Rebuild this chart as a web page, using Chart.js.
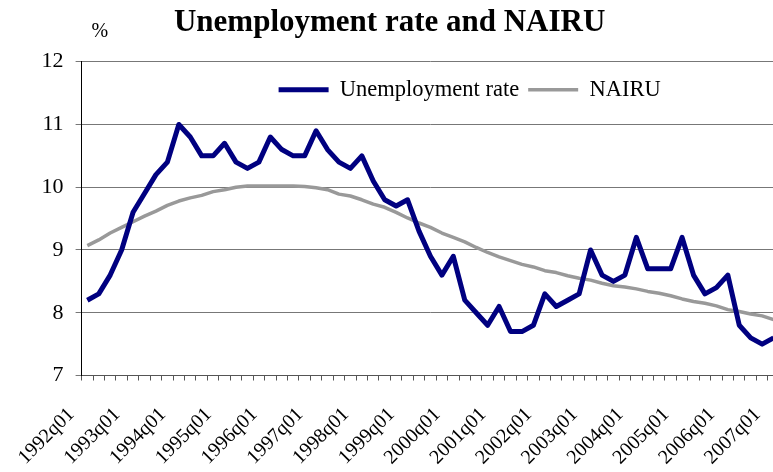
<!DOCTYPE html>
<html>
<head>
<meta charset="utf-8">
<script src="https://cdn.jsdelivr.net/npm/chart.js@4.4.1/dist/chart.umd.min.js"></script>
<style>
  html, body { margin: 0; padding: 0; background: #fff; overflow: hidden; }
  #wrap { width: 790px; height: 472px; }
</style>
</head>
<body>
<div id="wrap"><canvas id="myChart" width="790" height="472"></canvas></div>
<script>
// quarterly series, 1992q1 - 2007q1
var years = [1992,1993,1994,1995,1996,1997,1998,1999,2000,2001,2002,2003,2004,2005,2006,2007];
var quarters = [];
years.forEach(function (y) {
    ['q01','q02','q03','q04'].forEach(function (q) { quarters.push(y + q); });
});
quarters = quarters.slice(0, 61);

var unemploymentRate = [
    8.2, 8.3, 8.6, 9.0, 9.6, 9.9, 10.2, 10.4, 11.0, 10.8,
    10.5, 10.5, 10.7, 10.4, 10.3, 10.4, 10.8, 10.6, 10.5, 10.5,
    10.9, 10.6, 10.4, 10.3, 10.5, 10.1, 9.8, 9.7, 9.8, 9.3,
    8.9, 8.6, 8.9, 8.2, 8.0, 7.8, 8.1, 7.7, 7.7, 7.8,
    8.3, 8.1, 8.2, 8.3, 9.0, 8.6, 8.5, 8.6, 9.2, 8.7,
    8.7, 8.7, 9.2, 8.6, 8.3, 8.4, 8.6, 7.8, 7.6, 7.5,
    7.6
];
var nairu = [
    9.07, 9.16, 9.27, 9.36, 9.45, 9.54, 9.62, 9.71, 9.78, 9.83,
    9.87, 9.93, 9.96, 10.00, 10.02, 10.02, 10.02, 10.02, 10.02, 10.01,
    9.99, 9.96, 9.89, 9.86, 9.80, 9.73, 9.68, 9.60, 9.51, 9.43,
    9.36, 9.27, 9.20, 9.13, 9.04, 8.96, 8.89, 8.83, 8.77, 8.73,
    8.67, 8.64, 8.59, 8.55, 8.52, 8.47, 8.43, 8.41, 8.38, 8.34,
    8.31, 8.27, 8.22, 8.18, 8.15, 8.11, 8.05, 8.02, 7.98, 7.95,
    7.89
];

var serif = '"Liberation Serif", "Times New Roman", serif';

// "%" unit label above the value axis
var unitLabel = {
    id: 'unitLabel',
    afterDraw: function (chart) {
        var ctx = chart.ctx;
        ctx.save();
        ctx.font = '20px ' + serif;
        ctx.fillStyle = '#000';
        ctx.textBaseline = 'alphabetic';
        ctx.fillText('%', chart.chartArea.left + 10, chart.chartArea.top - 25);
        ctx.restore();
    }
};

// the legend only reserves 1px at the top (maxHeight), then gets moved
// into the upper right part of the plot
var legendInside = {
    id: 'legendInside',
    afterLayout: function (chart) {
        var lg = chart.legend, area = chart.chartArea;
        var w = lg.right - lg.left;
        lg.left = area.left + 188;
        lg.right = lg.left + w;
        lg.top = area.top + 7.8;
        lg.bottom = lg.top + 42;
    }
};

var ctx = document.getElementById('myChart').getContext('2d');
var myChart = new Chart(ctx, {
    type: 'line',
    data: {
        labels: quarters,
        datasets: [{
            label: 'Unemployment rate',
            data: unemploymentRate,
            borderColor: '#000080',
            backgroundColor: '#000080',
            borderWidth: 5,
            borderJoinStyle: 'round',
            pointRadius: 0,
            tension: 0
        },
        {
            label: 'NAIRU',
            data: nairu,
            borderColor: '#999999',
            backgroundColor: '#999999',
            borderWidth: 3.5,
            borderJoinStyle: 'round',
            pointRadius: 0,
            tension: 0
        }]
    },
    options: {
        responsive: false,
        animation: false,
        layout: {
            padding: { left: 0, right: 10.7, top: 0, bottom: 0 }
        },
        plugins: {
            title: {
                display: true,
                text: 'Unemployment rate and NAIRU',
                color: '#000',
                font: { family: serif, size: 31, weight: 'bold' },
                padding: { top: 3.9, bottom: 19.6 }
            },
            legend: {
                position: 'top',
                align: 'start',
                maxHeight: 1,
                labels: {
                    color: '#000',
                    font: { family: serif, size: 22.5 },
                    usePointStyle: true,
                    pointStyle: 'line',
                    pointStyleWidth: 50,
                    padding: 9
                }
            },
            tooltip: { enabled: false }
        },
        scales: {
            x: {
                type: 'category',
                offset: true,
                afterFit: function (s) {
                    s.height = 96.5;
                    s.paddingLeft = 0;
                    s.paddingRight = 0;
                },
                grid: {
                    offset: true,
                    drawOnChartArea: false,
                    drawTicks: true,
                    tickLength: 5,
                    color: '#555'
                },
                border: { color: '#555', width: 1 },
                ticks: {
                    autoSkip: false,
                    minRotation: 45,
                    maxRotation: 45,
                    padding: 22.5,
                    labelOffset: -16,
                    color: '#000',
                    font: { family: serif, size: 20 },
                    callback: function (v, i) { return i % 4 === 0 ? quarters[i] : ''; }
                }
            },
            y: {
                min: 7,
                max: 12,
                afterFit: function (s) { s.width = 81.6; },
                grid: {
                    color: '#777',
                    tickLength: 6
                },
                border: { color: '#000', width: 1 },
                ticks: {
                    stepSize: 1,
                    padding: 12,
                    color: '#000',
                    font: { family: serif, size: 22 }
                }
            }
        }
    },
    plugins: [unitLabel, legendInside]
});
</script>
</body>
</html>
